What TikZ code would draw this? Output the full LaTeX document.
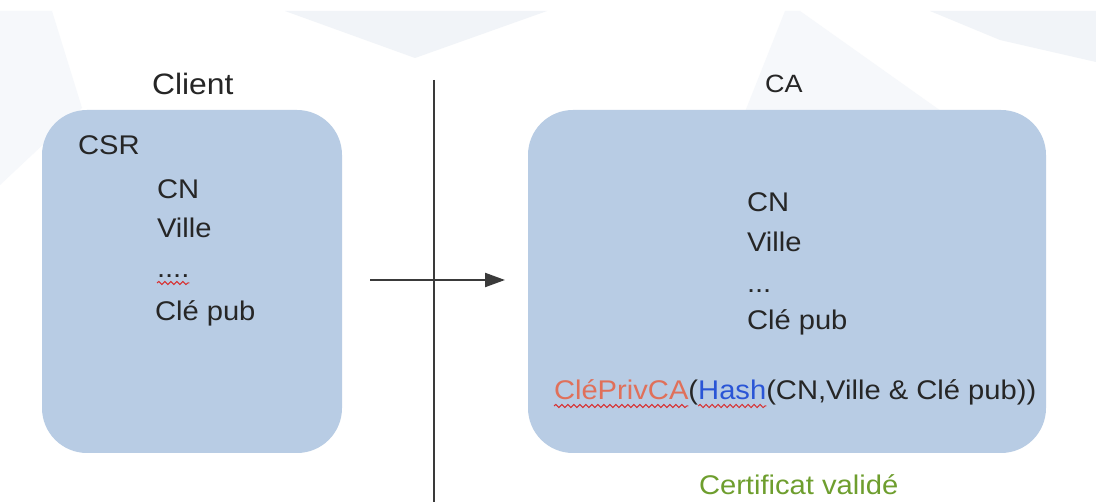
\documentclass[tikz,border=0pt]{standalone}
\usepackage{fontspec}
\setmainfont{Liberation Sans}[FakeStretch=1.08]
\usetikzlibrary{arrows.meta,decorations.pathmorphing}
\definecolor{boxblue}{HTML}{B8CCE4}
\definecolor{txtgray}{HTML}{262626}
\definecolor{linegray}{HTML}{3A3A3A}
\definecolor{redtxt}{HTML}{E0705A}
\definecolor{bluetxt}{HTML}{2A55D6}
\definecolor{greentxt}{HTML}{6E9E2E}
\definecolor{wavered}{HTML}{D83030}
\definecolor{bgA}{HTML}{F1F4F8}
\definecolor{bgB}{HTML}{F6F8FB}
\tikzset{
  bluebox/.style={fill=boxblue, draw=none, rounded corners=45pt},
  txt/.style={inner sep=0pt, outer sep=0pt, anchor=base west, text=txtgray, font=\fontsize{27}{32}\selectfont},
  wavy/.style={draw=wavered, line width=1pt, decorate, decoration={snake, amplitude=1.6pt, segment length=6pt}},
  conn/.style={draw=linegray, line width=2.2pt},
}
\begin{document}
\begin{tikzpicture}[x=1pt,y=-1pt]
\useasboundingbox (0,0) rectangle (1096,502);
\fill[white] (0,0) rectangle (1096,502);
% faint background shapes
\fill[bgB] (0,11) -- (52,11) -- (82,108) -- (0,185) -- cycle;
\fill[bgA] (285,11) -- (547,11) -- (415,58) -- cycle;
\fill[bgB] (785,11) -- (800,11) -- (1010,160) -- (714,190) -- cycle;
\fill[bgA] (930,11) -- (1096,11) -- (1096,62) -- (1000,40) -- cycle;
% boxes
\node[bluebox, minimum width=300pt, minimum height=343pt] (clientbox) at (192,281.5) {};
\node[bluebox, minimum width=518pt, minimum height=343pt] (cabox) at (787,281.5) {};
% titles
\node[txt, font=\fontsize{29.5}{34}\selectfont] (client) at (152,95) {Client};
\node[txt, font=\fontsize{25}{30}\selectfont] (ca) at (765,93) {CA};
% left box content
\node[txt] (csr) at (78,155) {CSR};
\node[txt] (lcn) at (157,199) {CN};
\node[txt] (lville) at (157,238) {Ville};
\node[txt] (ldots) at (157,278) {....};
\node[txt] (lcle) at (155,321) {Clé pub};
\draw[wavy] ([yshift=-5pt]ldots.base west) -- ([yshift=-5pt]ldots.base east);
% right box content
\node[txt] (rcn) at (747,212) {CN};
\node[txt] (rville) at (747,252) {Ville};
\node[txt] (rdots) at (747,293) {...};
\node[txt] (rcle) at (747,330) {Clé pub};
% signature line
\node[txt, text=redtxt] (cpca) at (554,400) {CléPrivCA};
\node[txt] (po) at (cpca.base east) {(};
\node[txt, text=bluetxt] (hash) at (po.base east) {Hash};
\node[txt] (rest) at (hash.base east) {(CN,Ville \& Clé pub))};
\draw[wavy] ([yshift=-6pt]cpca.base west) -- ([yshift=-6pt]cpca.base east);
\draw[wavy] ([yshift=-6pt]hash.base west) -- ([yshift=-6pt]hash.base east);
% certificate
\node[txt, text=greentxt] (cert) at (699,495) {Certificat validé};
% separator and arrow
\coordinate (v1) at (434,80);
\coordinate (v2) at (434,502);
\coordinate (a1) at (370,280);
\coordinate (a2) at (505,280);
\draw[conn] (v1) -- (v2);
\draw[conn, -{Triangle[length=20pt,width=14pt]}] (a1) -- (a2);
\end{tikzpicture}
\end{document}
